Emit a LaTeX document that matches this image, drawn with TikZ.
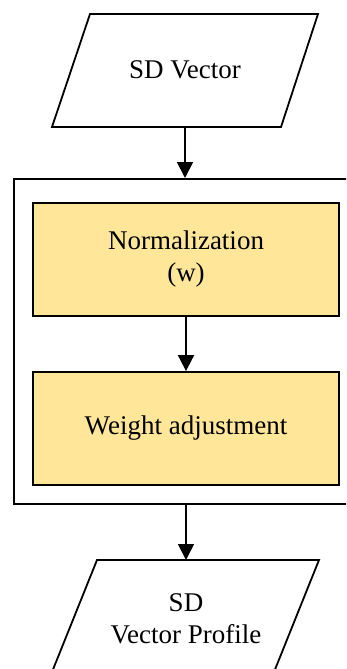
\documentclass[tikz,border=0pt]{standalone}
\usepackage{fontspec}
\setmainfont{Liberation Serif}
\usetikzlibrary{arrows.meta}
\definecolor{boxyellow}{HTML}{FFE699}
\tikzset{
  x=1pt,y=1pt,
  shapeline/.style={line width=1.8pt, line join=miter},
  procbox/.style={draw, line width=1.8pt, fill=boxyellow, minimum width=306pt, minimum height=113pt, inner sep=0pt, align=center, font=\fontsize{27}{32}\selectfont},
  groupbox/.style={draw, line width=1.8pt, minimum width=350pt, minimum height=325pt, inner sep=0pt},
  lbl/.style={align=center, font=\fontsize{27}{32}\selectfont},
  arr/.style={line width=1.8pt, -{Triangle[length=16pt,width=16pt]}},
}
\begin{document}
\begin{tikzpicture}
\useasboundingbox (0,0) rectangle (346,-669);
\clip (0,0) rectangle (346,-669);
% outer group box (right side beyond picture)
\node[groupbox, anchor=north west] (group) at (13,-178) {};
% input parallelogram
\draw[shapeline] (90,-14) -- (318,-14) -- (281,-127) -- (52,-127) -- cycle;
\coordinate (inbot) at (185,-127);
\node[lbl] (intext) at (185,-70) {SD Vector};
% process boxes
\node[procbox] (norm) at (186,-259.5) {Normalization\\(w)};
\node[procbox] (weight) at (186,-428.5) {Weight adjustment};
% output parallelogram
\draw[shapeline] (97,-560) -- (319,-560) -- (274,-672) -- (52,-672) -- cycle;
\coordinate (outtop) at (186,-560);
\node[lbl] (outtext) at (186,-619) {SD\\Vector Profile};
% connectors
\draw[arr] (inbot) -- (inbot |- group.north);
\draw[arr] (norm.south) -- (weight.north);
\draw[arr] (outtop |- group.south) -- (outtop);
\end{tikzpicture}
\end{document}
